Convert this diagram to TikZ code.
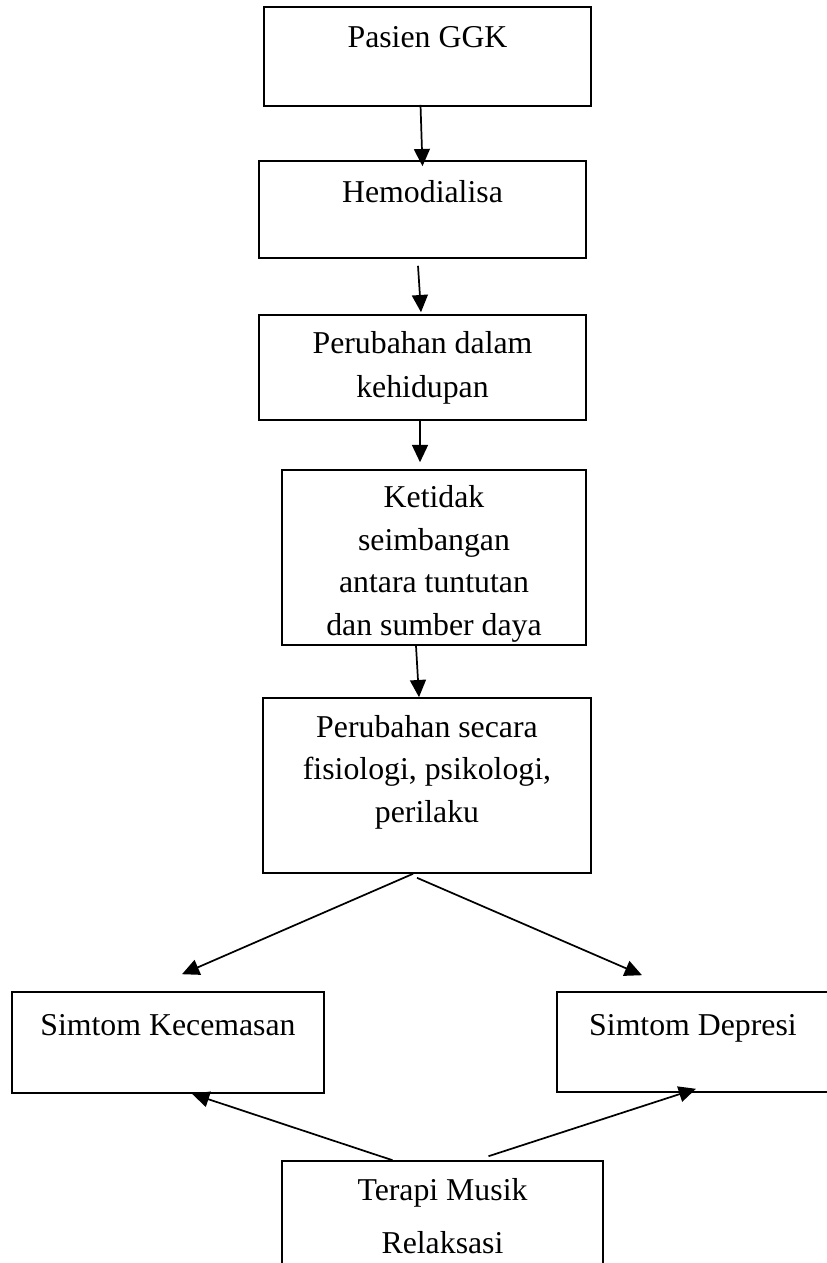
\documentclass[tikz,border=0pt]{standalone}
\usepackage{fontspec}
\setmainfont{Liberation Serif}
\usepackage{tikz}
\usetikzlibrary{arrows.meta,calc}
\tikzset{
  % flow box: text sits near the top, blank space below
  kotak/.style={rectangle, draw=black, line width=0.6pt, align=center,
                inner xsep=2pt, inner ysep=0pt, font=\fontsize{12}{16}\selectfont},
  % flow arrow
  alir/.style={-{Triangle[length=6.5pt,width=6pt]}, line width=0.65pt, black},
}

\begin{document}
\begin{tikzpicture}[x=0.3774pt, y=-0.3774pt]
  \useasboundingbox (0,0) rectangle (827,1263);

  % ═══════ MAIN CHAIN ═══════
  \node[kotak, minimum width=123.4pt, text height=15.1pt, text depth=22.27pt]
    (ggk) at (427.5,56.5) {Pasien GGK};
  \node[kotak, minimum width=123.4pt, text height=15.47pt, text depth=21.13pt]
    (hd) at (422.5,209.5) {Hemodialisa};
  \node[kotak, minimum width=123.4pt, text height=30.95pt, text depth=8.68pt,
        font=\fontsize{12}{16.6}\selectfont]
    (ubah) at (422.5,367.5) {Perubahan dalam\\kehidupan};
  \node[kotak, minimum width=114.7pt, text height=62.27pt, text depth=3.77pt]
    (imbang) at (434,557.5) {Ketidak\\seimbangan\\antara tuntutan\\dan sumber daya};
  \node[kotak, minimum width=123.8pt, text height=46.8pt, text depth=19.25pt]
    (fisio) at (427,785.5) {Perubahan secara\\fisiologi, psikologi,\\perilaku};

  \draw[alir] ($(ggk.south)+(-7,-2)$) -- ($(hd.north)+(0,6)$);
  \draw[alir] ($(hd.south)+(-4.5,7)$) -- ($(ubah.north)+(-1.5,-2)$);
  \draw[alir] ($(ubah.south)+(-2.5,0)$) -- ($(imbang.north)+(-14,-7)$);
  \draw[alir] ($(imbang.south)+(-18,0)$) -- ($(fisio.north)+(-8,0)$);

  % ═══════ SYMPTOMS ═══════
  \node[kotak, minimum width=117.7pt, text height=16.23pt, text depth=21.89pt]
    (cemas) at (168,1042.5) {Simtom Kecemasan};
  \node[kotak, minimum width=102.7pt, text height=16.23pt, text depth=21.51pt]
    (depresi) at (693,1042) {Simtom Depresi};
  \coordinate (cemas-in) at ($(cemas.north)+(14,-17)$);
  \coordinate (depresi-in) at ($(depresi.north)+(-51,-16)$);

  \draw[alir] ($(fisio.south)+(-14,0)$) -- (cemas-in);
  \draw[alir] ($(fisio.south)+(-10,4)$) -- (depresi-in);

  % ═══════ THERAPY ═══════
  \node[kotak, minimum width=121.1pt, text height=34.72pt, text depth=15.85pt,
        font=\fontsize{12}{20}\selectfont]
    (terapi) at (442.5,1228) {Terapi Musik\\Relaksasi};

  \draw[alir] ($(terapi.north)+(-50,0)$) -- ($(cemas.south)+(24,0)$);
  \draw[alir] ($(terapi.north)+(46,-4)$) -- ($(depresi.south)+(3,-4)$);

\end{tikzpicture}
\end{document}
